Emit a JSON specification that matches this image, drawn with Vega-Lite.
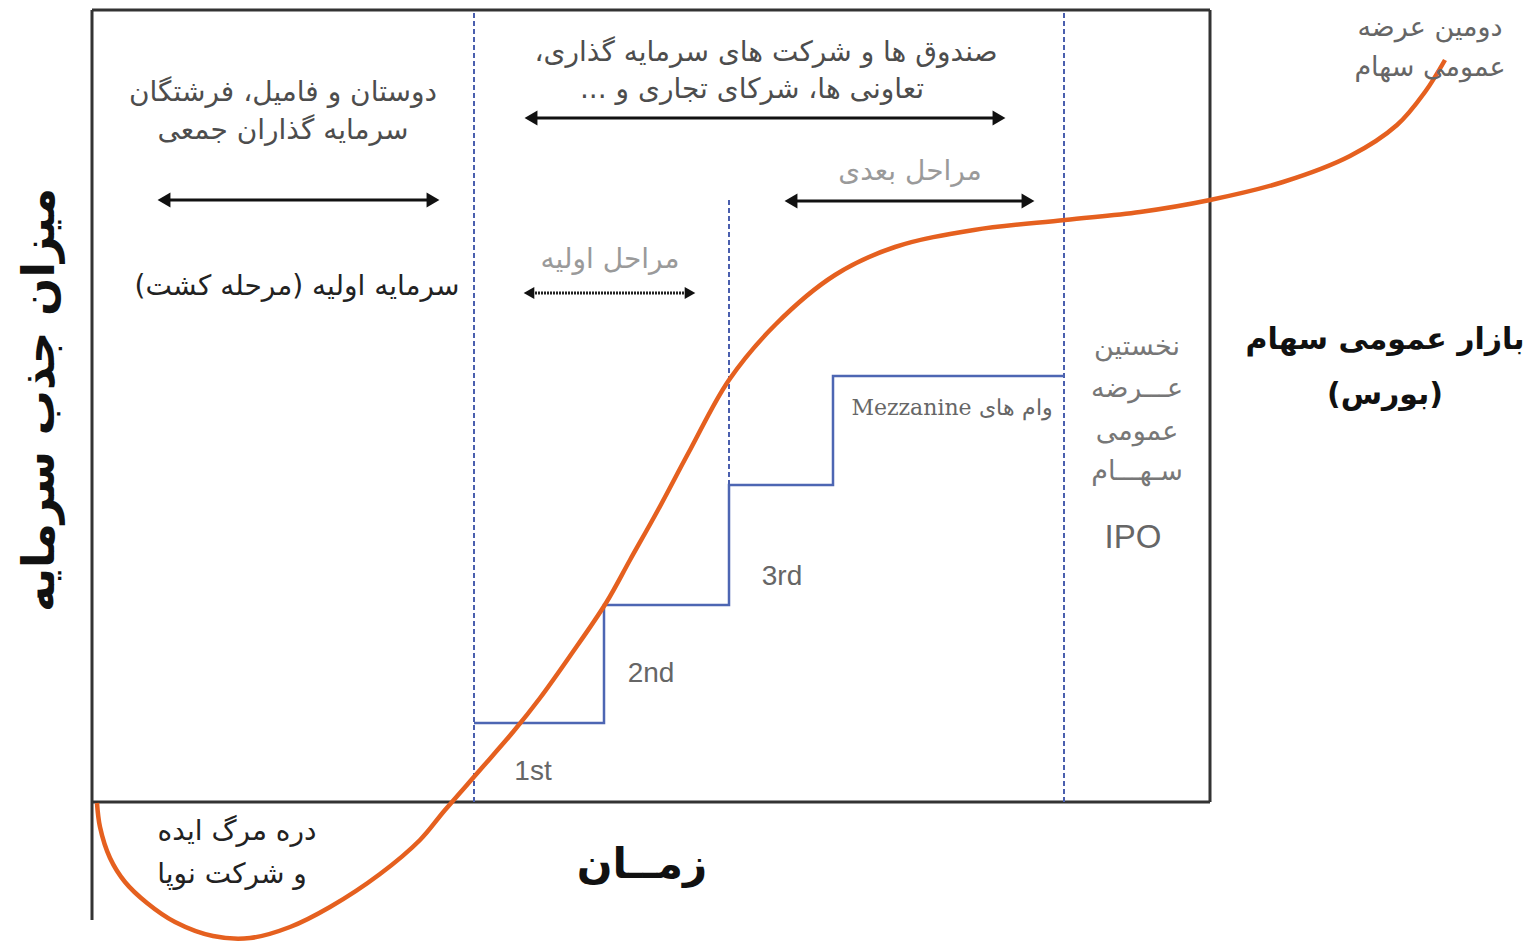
{
  "$schema": "https://vega.github.io/schema/vega-lite/v6.json",
  "width": 1529,
  "height": 942,
  "autosize": {"type": "none"},
  "padding": 0,
  "background": "white",
  "config": {"view": {"stroke": null}},
  "datasets": {
    "curve": [
      {"t": 5, "v": -1}, {"t": 8, "v": -25}, {"t": 18, "v": -56}, {"t": 33, "v": -80},
      {"t": 55, "v": -101}, {"t": 83, "v": -120}, {"t": 121, "v": -134}, {"t": 158, "v": -136},
      {"t": 198, "v": -125}, {"t": 238, "v": -105}, {"t": 288, "v": -72}, {"t": 328, "v": -38},
      {"t": 353, "v": -8}, {"t": 388, "v": 32}, {"t": 421, "v": 70}, {"t": 448, "v": 104},
      {"t": 478, "v": 146}, {"t": 514, "v": 199}, {"t": 538, "v": 242}, {"t": 566, "v": 292},
      {"t": 598, "v": 352}, {"t": 637, "v": 422}, {"t": 684, "v": 478}, {"t": 743, "v": 527},
      {"t": 803, "v": 555}, {"t": 882, "v": 572}, {"t": 973, "v": 582}, {"t": 1048, "v": 590},
      {"t": 1118, "v": 602}, {"t": 1191, "v": 620}, {"t": 1258, "v": 646}, {"t": 1305, "v": 677},
      {"t": 1333, "v": 710}, {"t": 1353, "v": 742}
    ],
    "frame": [
      {"t": 0, "t2": 1118, "v": 792, "v2": 792},
      {"t": 1118, "t2": 1118, "v": 0, "v2": 792},
      {"t": 0, "t2": 1118, "v": 0, "v2": 0},
      {"t": 0, "t2": 0, "v": -118, "v2": 792}
    ],
    "dashed": [
      {"t": 382, "t2": 382, "v": 0, "v2": 792},
      {"t": 972, "t2": 972, "v": 0, "v2": 792},
      {"t": 637, "t2": 637, "v": 197, "v2": 605}
    ],
    "steps": [
      {"i": 1, "t": 382, "v": 79}, {"i": 2, "t": 512, "v": 79}, {"i": 3, "t": 512, "v": 197},
      {"i": 4, "t": 637, "v": 197}, {"i": 5, "t": 637, "v": 317}, {"i": 6, "t": 741, "v": 317},
      {"i": 7, "t": 741, "v": 426}, {"i": 8, "t": 972, "v": 426}
    ],
    "arrows": [
      {"t": 72, "t2": 341, "v": 602},
      {"t": 439, "t2": 907, "v": 684},
      {"t": 699, "t2": 936, "v": 601}
    ],
    "arrowsThin": [
      {"t": 437, "t2": 598, "v": 509}
    ],
    "grayText": [
      {"t": 191, "v": 709, "label": "\u202bدوستان و فامیل، فرشتگان\u202c"},
      {"t": 191, "v": 671, "label": "\u202bسرمایه گذاران جمعی\u202c"},
      {"t": 674, "v": 749, "label": "\u202bصندوق ها و شرکت های سرمایه گذاری،\u202c"},
      {"t": 660, "v": 712, "label": "\u202bتعاونی ها، شرکای تجاری و ...\u202c"}
    ],
    "darkText": [
      {"t": 205, "v": 515, "label": "\u202bسرمایه اولیه (مرحله کشت)\u202c"}
    ],
    "lightText": [
      {"t": 818, "v": 630, "label": "\u202bمراحل بعدی\u202c"},
      {"t": 518, "v": 542, "label": "\u202bمراحل اولیه\u202c"}
    ],
    "mezz": [
      {"t": 860, "v": 394, "label": "\u202bوام های Mezzanine\u202c"}
    ],
    "ipoText": [
      {"t": 1045, "v": 455, "label": "\u202bنخستین\u202c"},
      {"t": 1045, "v": 413, "label": "\u202bعـــرضه\u202c"},
      {"t": 1045, "v": 370, "label": "\u202bعمومی\u202c"},
      {"t": 1045, "v": 330, "label": "\u202bسـهـــام\u202c"}
    ],
    "ipo": [
      {"t": 1041, "v": 264, "label": "IPO"}
    ],
    "market": [
      {"t": 1293, "v": 462, "label": "\u202bبازار عمومی سهام\u202c"},
      {"t": 1293, "v": 407, "label": "\u202b(بورس)\u202c"}
    ],
    "second": [
      {"t": 1338, "v": 774, "label": "\u202bدومین عرضه\u202c"},
      {"t": 1338, "v": 734, "label": "\u202bعمومی سهام\u202c"}
    ],
    "rounds": [
      {"t": 441, "v": 30, "label": "1st"},
      {"t": 559, "v": 128, "label": "2nd"},
      {"t": 690, "v": 225, "label": "3rd"}
    ],
    "valley": [
      {"t": 145, "v": -30, "label": "\u202bدره مرگ ایده\u202c"},
      {"t": 140, "v": -73, "label": "\u202bو شرکت نوپا\u202c"}
    ],
    "xTitle": [
      {"t": 550, "v": -63, "label": "\u202bزمــان\u202c"}
    ],
    "yTitle": [
      {"t": -52, "v": 402, "label": "\u202bمیزان جذب سرمایه\u202c"}
    ]
  },
  "encoding": {
    "x": {"field": "t", "type": "quantitative", "scale": {"domain": [-92, 1437], "nice": false, "zero": false}, "axis": null},
    "y": {"field": "v", "type": "quantitative", "scale": {"domain": [-140, 802], "nice": false, "zero": false}, "axis": null}
  },
  "layer": [
    {
      "data": {"name": "frame"},
      "mark": {"type": "rule", "color": "#333333", "strokeWidth": 3},
      "encoding": {"x2": {"field": "t2"}, "y2": {"field": "v2"}}
    },
    {
      "data": {"name": "dashed"},
      "mark": {"type": "rule", "color": "#4a5fae", "strokeWidth": 2, "strokeDash": [5, 3]},
      "encoding": {"x2": {"field": "t2"}, "y2": {"field": "v2"}}
    },
    {
      "data": {"name": "steps"},
      "mark": {"type": "line", "color": "#4d66b3", "strokeWidth": 2.5, "interpolate": "linear"},
      "encoding": {"order": {"field": "i", "type": "quantitative"}}
    },
    {
      "data": {"name": "arrows"},
      "mark": {"type": "rule", "color": "#111111", "strokeWidth": 3},
      "encoding": {"x2": {"field": "t2"}}
    },
    {
      "data": {"name": "arrows"},
      "mark": {"type": "point", "shape": "triangle-left", "filled": true, "color": "#111111", "size": 220, "opacity": 1}
    },
    {
      "data": {"name": "arrows"},
      "mark": {"type": "point", "shape": "triangle-right", "filled": true, "color": "#111111", "size": 220, "opacity": 1},
      "encoding": {"x": {"field": "t2", "type": "quantitative"}}
    },
    {
      "data": {"name": "arrowsThin"},
      "mark": {"type": "rule", "color": "#222222", "strokeWidth": 3, "strokeDash": [2, 1]},
      "encoding": {"x2": {"field": "t2"}}
    },
    {
      "data": {"name": "arrowsThin"},
      "mark": {"type": "point", "shape": "triangle-left", "filled": true, "color": "#111111", "size": 150, "opacity": 1}
    },
    {
      "data": {"name": "arrowsThin"},
      "mark": {"type": "point", "shape": "triangle-right", "filled": true, "color": "#111111", "size": 150, "opacity": 1},
      "encoding": {"x": {"field": "t2", "type": "quantitative"}}
    },
    {
      "data": {"name": "curve"},
      "mark": {"type": "line", "color": "#e5601f", "strokeWidth": 4.5, "interpolate": "catmull-rom"}
    },
    {
      "data": {"name": "grayText"},
      "mark": {"type": "text", "font": "DejaVu Sans", "fontSize": 28, "color": "#4d4d4d", "align": "center", "baseline": "middle"},
      "encoding": {"text": {"field": "label"}}
    },
    {
      "data": {"name": "darkText"},
      "mark": {"type": "text", "font": "DejaVu Sans", "fontSize": 28, "color": "#222222", "align": "center", "baseline": "middle"},
      "encoding": {"text": {"field": "label"}}
    },
    {
      "data": {"name": "lightText"},
      "mark": {"type": "text", "font": "DejaVu Sans", "fontSize": 28, "color": "#9a9a9a", "align": "center", "baseline": "middle"},
      "encoding": {"text": {"field": "label"}}
    },
    {
      "data": {"name": "mezz"},
      "mark": {"type": "text", "font": "DejaVu Serif", "fontSize": 22, "color": "#666666", "align": "center", "baseline": "middle"},
      "encoding": {"text": {"field": "label"}}
    },
    {
      "data": {"name": "ipoText"},
      "mark": {"type": "text", "font": "DejaVu Sans", "fontSize": 27, "color": "#777777", "align": "center", "baseline": "middle"},
      "encoding": {"text": {"field": "label"}}
    },
    {
      "data": {"name": "ipo"},
      "mark": {"type": "text", "font": "Liberation Sans", "fontSize": 33, "color": "#666666", "align": "center", "baseline": "middle"},
      "encoding": {"text": {"field": "label"}}
    },
    {
      "data": {"name": "market"},
      "mark": {"type": "text", "font": "DejaVu Sans", "fontSize": 30, "fontWeight": "bold", "color": "#111111", "align": "center", "baseline": "middle"},
      "encoding": {"text": {"field": "label"}}
    },
    {
      "data": {"name": "second"},
      "mark": {"type": "text", "font": "DejaVu Sans", "fontSize": 27, "color": "#666666", "align": "center", "baseline": "middle"},
      "encoding": {"text": {"field": "label"}}
    },
    {
      "data": {"name": "rounds"},
      "mark": {"type": "text", "font": "Liberation Sans", "fontSize": 28, "color": "#666666", "align": "center", "baseline": "middle"},
      "encoding": {"text": {"field": "label"}}
    },
    {
      "data": {"name": "valley"},
      "mark": {"type": "text", "font": "DejaVu Sans", "fontSize": 28, "color": "#222222", "align": "center", "baseline": "middle"},
      "encoding": {"text": {"field": "label"}}
    },
    {
      "data": {"name": "xTitle"},
      "mark": {"type": "text", "font": "DejaVu Sans", "fontSize": 42, "fontWeight": "bold", "color": "#111111", "align": "center", "baseline": "middle"},
      "encoding": {"text": {"field": "label"}}
    },
    {
      "data": {"name": "yTitle"},
      "mark": {"type": "text", "font": "DejaVu Sans", "fontSize": 45, "fontWeight": "bold", "color": "#111111", "align": "center", "baseline": "middle", "angle": 270},
      "encoding": {"text": {"field": "label"}}
    }
  ]
}
